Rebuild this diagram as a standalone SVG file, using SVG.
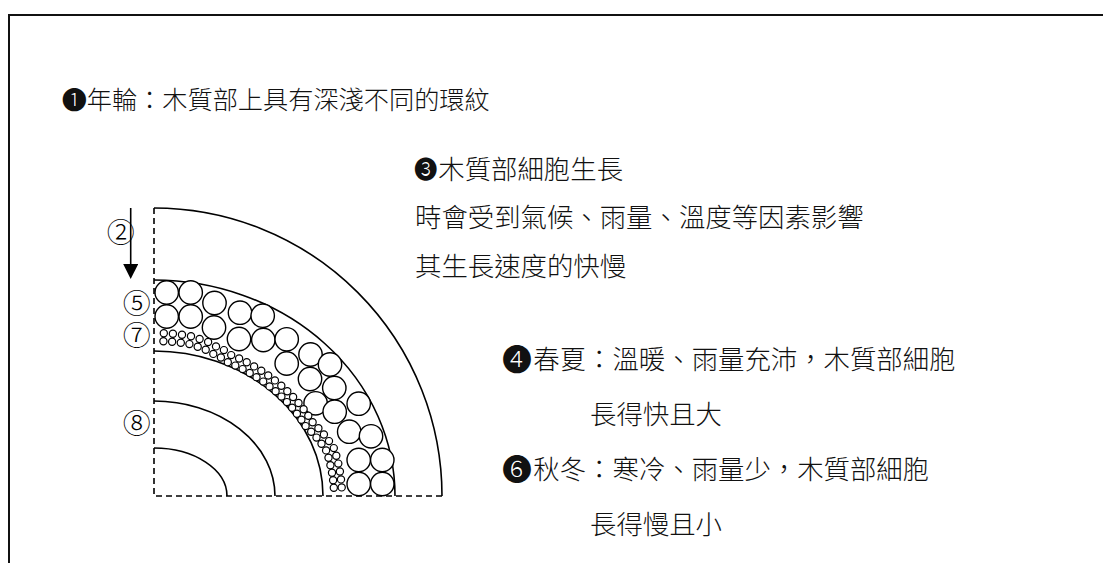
<svg xmlns="http://www.w3.org/2000/svg" width="1103" height="563" viewBox="0 0 1103 563">
  <style>
    .frame { fill: none; stroke: #111; stroke-width: 2; }
    .ring { fill: none; stroke: #000; stroke-width: 1.6; }
    .axis { fill: none; stroke: #000; stroke-width: 1.6; stroke-dasharray: 6 4; }
    .big circle { fill: #fff; stroke: #000; stroke-width: 1.4; }
    .small circle { fill: #fff; stroke: #000; stroke-width: 1.2; }
    .txt { font-family: "Noto Sans CJK TC", "Noto Sans CJK SC", sans-serif; fill: #111; font-weight: 300; }
    .num { font-family: "Noto Sans CJK TC", "DejaVu Sans", sans-serif; fill: #000; font-size: 28px; text-anchor: middle; font-weight: 300; }
  </style>
  <defs>
    <marker id="head" markerUnits="userSpaceOnUse" markerWidth="15" markerHeight="15" refX="0" refY="7.5" orient="auto">
      <path d="M0,0 L15,7.5 L0,15 Z" fill="#000"/>
    </marker>
  </defs>

  <rect width="1103" height="563" fill="#fff"/>

  <!-- open frame: top and left edges -->
  <g id="frame">
    <path class="frame" d="M9,563 V15 H1103"/>
  </g>

  <!-- growth rings (quarter section) -->
  <g id="rings">
    <path class="ring" d="M154,448 A73,48 0 0 1 227,496"/>
    <path class="ring" d="M154,401 A121,95 0 0 1 275,496"/>
    <path class="ring" d="M154,351 A169,145 0 0 1 323,496"/>
    <path class="ring" d="M154,280 A241,216 0 0 1 395,496"/>
    <path class="ring" d="M154,208 A288,288 0 0 1 442,496"/>
    <path class="axis" d="M154,208 V496 H442"/>
  </g>

  <!-- large early-wood cells -->
  <g id="cells-large" class="big">
    <circle cx="166.7" cy="292.5" r="11.7"/>
    <circle cx="190.7" cy="292.5" r="11.7"/>
    <circle cx="166.7" cy="316.5" r="11.7"/>
    <circle cx="190.7" cy="316.5" r="11.7"/>
    <circle cx="214.5" cy="303" r="11.7"/>
    <circle cx="214" cy="327.5" r="11.7"/>
    <circle cx="240" cy="312.7" r="11.7"/>
    <circle cx="262.7" cy="315.7" r="11.7"/>
    <circle cx="239" cy="339" r="11.7"/>
    <circle cx="263.3" cy="340" r="11.7"/>
    <circle cx="286.7" cy="339.3" r="11.7"/>
    <circle cx="286.7" cy="363.5" r="11.7"/>
    <circle cx="310.5" cy="354.5" r="11.7"/>
    <circle cx="330" cy="364.5" r="11.7"/>
    <circle cx="310" cy="379" r="11.7"/>
    <circle cx="334.3" cy="388" r="11.7"/>
    <circle cx="315.6" cy="403.3" r="11.7"/>
    <circle cx="334.7" cy="411.7" r="11.7"/>
    <circle cx="358.7" cy="403.7" r="11.7"/>
    <circle cx="349.2" cy="431.7" r="11.7"/>
    <circle cx="371" cy="436.3" r="11.7"/>
    <circle cx="358.7" cy="460" r="11.7"/>
    <circle cx="382.3" cy="460" r="11.7"/>
    <circle cx="358.7" cy="484" r="11.7"/>
    <circle cx="382.3" cy="484" r="11.7"/>
  </g>

  <!-- small late-wood cells, two rows -->
  <g id="cells-small" class="small">
    <circle cx="163.4" cy="341.2" r="3.6"/>
    <circle cx="172.1" cy="341.8" r="3.6"/>
    <circle cx="180.8" cy="342.7" r="3.6"/>
    <circle cx="189.4" cy="344.1" r="3.6"/>
    <circle cx="197.7" cy="346.7" r="3.6"/>
    <circle cx="205.7" cy="349.7" r="3.6"/>
    <circle cx="213.3" cy="353.9" r="3.6"/>
    <circle cx="220.9" cy="357.5" r="3.6"/>
    <circle cx="227.8" cy="362.3" r="3.6"/>
    <circle cx="235.3" cy="365.6" r="3.6"/>
    <circle cx="242.6" cy="369.1" r="3.6"/>
    <circle cx="249.7" cy="373.0" r="3.6"/>
    <circle cx="256.5" cy="377.2" r="3.6"/>
    <circle cx="263.2" cy="381.6" r="3.6"/>
    <circle cx="269.5" cy="386.4" r="3.6"/>
    <circle cx="275.6" cy="391.3" r="3.6"/>
    <circle cx="281.4" cy="396.6" r="3.6"/>
    <circle cx="286.9" cy="402.1" r="3.6"/>
    <circle cx="292.1" cy="407.8" r="3.6"/>
    <circle cx="296.9" cy="413.7" r="3.6"/>
    <circle cx="301.4" cy="419.8" r="3.6"/>
    <circle cx="305.6" cy="426.1" r="3.6"/>
    <circle cx="311.2" cy="431.7" r="3.6"/>
    <circle cx="316.5" cy="437.6" r="3.6"/>
    <circle cx="321.5" cy="443.8" r="3.6"/>
    <circle cx="326.1" cy="450.4" r="3.6"/>
    <circle cx="328.5" cy="457.7" r="3.6"/>
    <circle cx="330.4" cy="465.2" r="3.6"/>
    <circle cx="332.0" cy="472.7" r="3.6"/>
    <circle cx="333.1" cy="480.2" r="3.6"/>
    <circle cx="333.8" cy="487.8" r="3.6"/>

    <circle cx="163.8" cy="333.2" r="3.6"/>
    <circle cx="172.9" cy="333.8" r="3.6"/>
    <circle cx="182.0" cy="334.8" r="3.6"/>
    <circle cx="191.0" cy="336.2" r="3.6"/>
    <circle cx="199.6" cy="339.0" r="3.6"/>
    <circle cx="208.1" cy="342.0" r="3.6"/>
    <circle cx="216.0" cy="346.4" r="3.6"/>
    <circle cx="223.9" cy="350.1" r="3.6"/>
    <circle cx="231.2" cy="355.1" r="3.6"/>
    <circle cx="239.1" cy="358.5" r="3.6"/>
    <circle cx="246.7" cy="362.3" r="3.6"/>
    <circle cx="254.1" cy="366.4" r="3.6"/>
    <circle cx="261.3" cy="370.8" r="3.6"/>
    <circle cx="268.2" cy="375.5" r="3.6"/>
    <circle cx="274.9" cy="380.4" r="3.6"/>
    <circle cx="281.3" cy="385.7" r="3.6"/>
    <circle cx="287.3" cy="391.2" r="3.6"/>
    <circle cx="293.1" cy="397.0" r="3.6"/>
    <circle cx="298.5" cy="403.0" r="3.6"/>
    <circle cx="303.6" cy="409.2" r="3.6"/>
    <circle cx="308.3" cy="415.7" r="3.6"/>
    <circle cx="312.6" cy="422.3" r="3.6"/>
    <circle cx="318.4" cy="428.2" r="3.6"/>
    <circle cx="323.9" cy="434.5" r="3.6"/>
    <circle cx="329.0" cy="441.1" r="3.6"/>
    <circle cx="333.8" cy="448.1" r="3.6"/>
    <circle cx="336.3" cy="455.8" r="3.6"/>
    <circle cx="338.3" cy="463.6" r="3.6"/>
    <circle cx="339.9" cy="471.5" r="3.6"/>
    <circle cx="341.0" cy="479.4" r="3.6"/>
    <circle cx="341.7" cy="487.4" r="3.6"/>
  </g>

  <!-- growth direction arrow -->
  <g id="connectors">
    <line x1="130.7" y1="208" x2="130.7" y2="264" stroke="#000" stroke-width="1.6" marker-end="url(#head)"/>
  </g>

  <!-- position markers -->
  <g id="markers">
    <text class="num" x="120.7" y="242.6">②</text>
    <text class="num" x="136.7" y="314.2">⑤</text>
    <text class="num" x="136.7" y="345.9">⑦</text>
    <text class="num" x="136.7" y="434.2">⑧</text>
  </g>

  <!-- descriptions -->
  <g id="note-1" class="txt" font-size="25.2">
    <text x="61.7" y="108.5">❶<tspan x="86.7">年輪：木質部上具有深淺不同的環紋</tspan></text>
  </g>
  <g id="note-3" class="txt" font-size="26.4">
    <text x="414" y="178"><tspan font-size="23.5">❸</tspan><tspan x="438.3" y="178.5">木質部細胞生長</tspan></text>
    <text x="415" y="227">時會受到氣候、雨量、溫度等因素影響</text>
    <text x="415" y="275.5">其生長速度的快慢</text>
  </g>
  <g id="note-4" class="txt" font-size="26.4">
    <text x="502" y="370"><tspan font-size="30">❹</tspan><tspan x="533.3" y="369">春夏：溫暖、雨量充沛，木質部細胞</tspan></text>
    <text x="590" y="424">長得快且大</text>
  </g>
  <g id="note-6" class="txt" font-size="26.4">
    <text x="502" y="480"><tspan font-size="30">❻</tspan><tspan x="533.3" y="479">秋冬：寒冷、雨量少，木質部細胞</tspan></text>
    <text x="590" y="534">長得慢且小</text>
  </g>
</svg>
